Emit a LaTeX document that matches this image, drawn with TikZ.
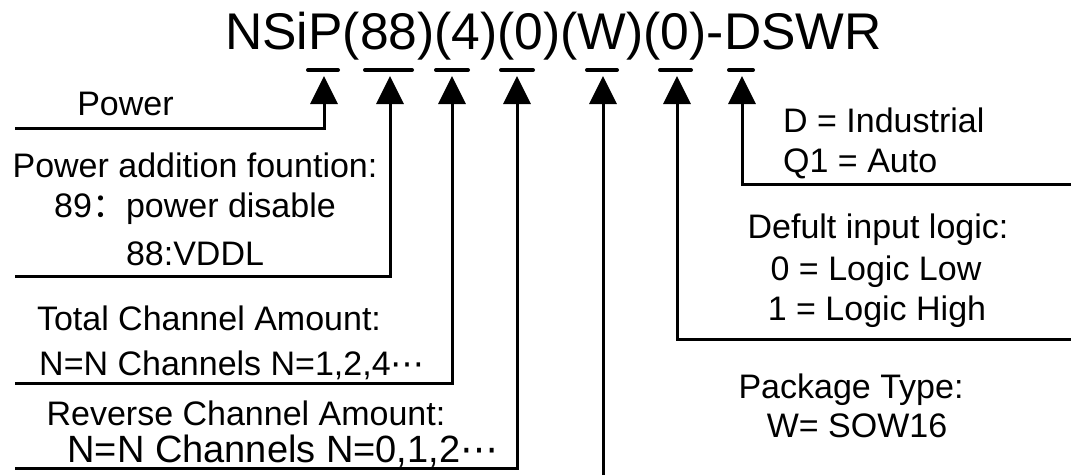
\documentclass[tikz,border=0pt]{standalone}
\usepackage{fontspec}
\setmainfont{Liberation Sans}
\newfontfamily\cjkfont{Noto Sans CJK SC}
\newfontfamily\symfont{DejaVu Sans}
\usetikzlibrary{arrows.meta}
\tikzset{
  lead/.style={line width=3pt, -{Triangle[length=28pt, width=27pt]}},
  fieldbar/.style={line width=4pt, line cap=round},
  note/.style={font=\fontsize{34}{40}\selectfont, inner sep=0pt, anchor=base},
}
\begin{document}
\begin{tikzpicture}
\begin{scope}[x=1pt, y=-1pt]
  \useasboundingbox (0, 0) rectangle (1071, 475);
  % Part number and the marks under its fields.
  \node[font=\fontsize{51.6}{60}\selectfont, inner sep=0pt, anchor=base] (part)
    at (553.5, 49) {NSiP(88)(4)(0)(W)(0)-DSWR};
  \foreach \x/\w in {323/15, 388.5/23.5, 452/16, 517/16, 602/15, 675.5/15.5,
    741/12}
    \draw[fieldbar] (\x-\w, 70) -- (\x+\w, 70);
  % Arrow tips and the free ends of the leads.
  \coordinate (pw tip) at (324, 76);
  \coordinate (fn tip) at (390, 76);
  \coordinate (tc tip) at (452, 76);
  \coordinate (rc tip) at (517, 76);
  \coordinate (pk tip) at (603, 76);
  \coordinate (lg tip) at (677, 76);
  \coordinate (gr tip) at (742, 76);
  \coordinate (pw end) at (15, 128);
  \coordinate (fn end) at (15, 276);
  \coordinate (tc end) at (15, 383);
  \coordinate (rc end) at (15, 468);
  \coordinate (pk end) at (603, 475);
  \coordinate (lg end) at (1071, 339);
  \coordinate (gr end) at (1071, 184);
  % Draw the leads.
  \draw[lead] (pw end) -| (pw tip);
  \draw[lead] (fn end) -| (fn tip);
  \draw[lead] (tc end) -| (tc tip);
  \draw[lead] (rc end) -| (rc tip);
  \draw[lead] (pk end) -- (pk tip);
  \draw[lead] (lg end) -| (lg tip);
  \draw[lead] (gr end) -| (gr tip);
  % Annotate the fields on the left.
  \node[note] (power) at (125.5, 115) {Power};
  \node[note] (fn a) at (195, 177) {Power addition fountion:};
  \node[note] (fn b) at (195, 217) {89{\cjkfont ：}power disable};
  \node[note] (fn c) at (195, 265) {88:VDDL};
  \node[note] (tc a) at (209, 330) {Total Channel Amount:};
  \node[note] (tc b) at (232, 375) {N=N Channels N=1,2,4{\symfont ⋯}};
  \node[note] (rc a) at (246, 425) {Reverse Channel Amount:};
  \node[note, font=\fontsize{38}{44}\selectfont] (rc b) at (283, 462)
    {N=N Channels N=0,1,2{\symfont ⋯}};
  % Annotate the fields on the right.
  \node[note, anchor=base west] (gr a) at (783, 132) {D = Industrial};
  \node[note, anchor=base west] (gr b) at (783, 172) {Q1 = Auto};
  \node[note] (lg a) at (878, 238) {Defult input logic:};
  \node[note] (lg b) at (876, 280) {0 = Logic Low};
  \node[note] (lg c) at (877, 320) {1 = Logic High};
  \node[note] (pk a) at (851, 398) {Package Type:};
  \node[note] (pk b) at (857, 437) {W= SOW16};
\end{scope}
\end{tikzpicture}
\end{document}
